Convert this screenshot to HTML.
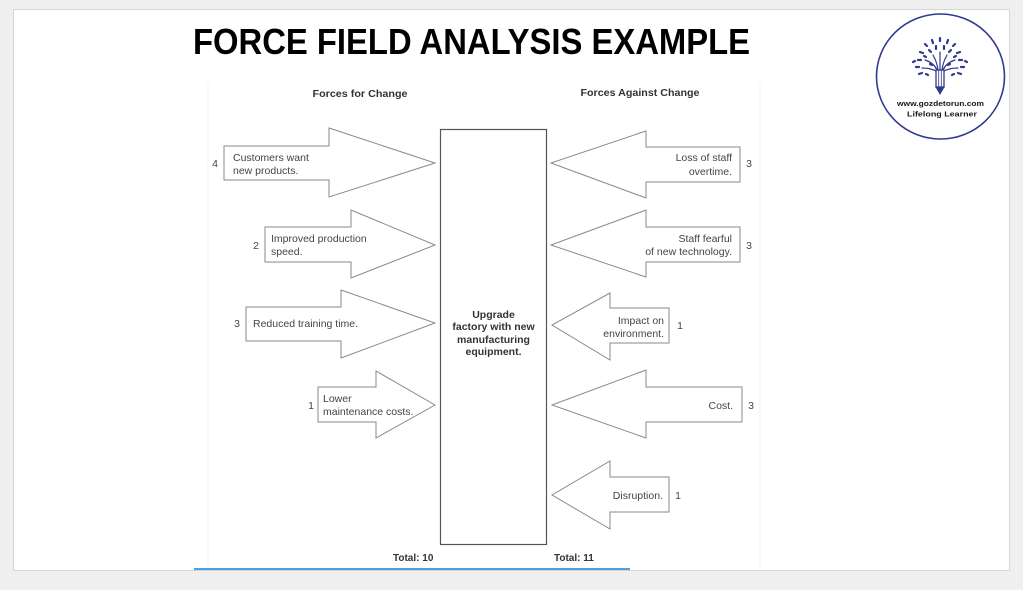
<!DOCTYPE html>
<html>
<head>
<meta charset="utf-8">
<style>
  html,body{margin:0;padding:0;background:#efefef;}
  body{width:1023px;height:590px;overflow:hidden;}
  svg{display:block;}
  .t{font-family:"Liberation Sans",Arial,sans-serif;fill:#444;font-size:10.5px;}
  .b{font-family:"Liberation Sans",Arial,sans-serif;font-weight:bold;fill:#333;}
  .ar{fill:#fff;stroke:#8a8a8a;stroke-width:1;}
</style>
</head>
<body>
<svg width="1023" height="590" viewBox="0 0 1023 590" xmlns="http://www.w3.org/2000/svg">
  <!-- page background and slide -->
  <rect x="0" y="0" width="1023" height="590" fill="#efefef"/>
  <rect x="13.5" y="9.5" width="996" height="561" fill="#ffffff" stroke="#d6d6d6" stroke-width="1"/>
  <!-- inner image faint bounds -->
  <line x1="208" y1="82" x2="208" y2="568" stroke="#f2f2f2" stroke-width="1"/>
  <line x1="760" y1="82" x2="760" y2="568" stroke="#f2f2f2" stroke-width="1"/>

  <!-- title -->
  <text x="193" y="54" textLength="557" lengthAdjust="spacingAndGlyphs" font-family="'Liberation Sans',Arial,sans-serif" font-weight="bold" font-size="36" fill="#000">FORCE FIELD ANALYSIS EXAMPLE</text>

  <!-- headers -->
  <text class="b" x="360" y="97" font-size="10" text-anchor="middle" textLength="95" lengthAdjust="spacingAndGlyphs">Forces for Change</text>
  <text class="b" x="640" y="96" font-size="10" text-anchor="middle" textLength="119" lengthAdjust="spacingAndGlyphs">Forces Against Change</text>

  <!-- center box -->
  <rect x="440.5" y="129.5" width="106" height="415" fill="#fff" stroke="#555" stroke-width="1.2"/>
  <g class="b" font-size="10.5" text-anchor="middle">
    <text x="493.5" y="318">Upgrade</text>
    <text x="493.5" y="330">factory with new</text>
    <text x="493.5" y="343">manufacturing</text>
    <text x="493.5" y="355">equipment.</text>
  </g>

  <!-- left arrows -->
  <polygon class="ar" points="224,146 329,146 329,128 435,163 329,197 329,180 224,180"/>
  <polygon class="ar" points="265,227 351,227 351,210 435,245 351,278 351,262 265,262"/>
  <polygon class="ar" points="246,307 341,307 341,290 435,323 341,358 341,341 246,341"/>
  <polygon class="ar" points="318,387 376,387 376,371 435,405 376,438 376,422 318,422"/>

  <g class="t">
    <text x="215" y="167" text-anchor="middle">4</text>
    <text x="233" y="161">Customers want</text>
    <text x="233" y="174">new products.</text>

    <text x="256" y="249" text-anchor="middle">2</text>
    <text x="271" y="242">Improved production</text>
    <text x="271" y="255">speed.</text>

    <text x="237" y="327" text-anchor="middle">3</text>
    <text x="253" y="327">Reduced training time.</text>

    <text x="311" y="409" text-anchor="middle">1</text>
    <text x="323" y="402">Lower</text>
    <text x="323" y="415">maintenance costs.</text>
  </g>

  <!-- right arrows -->
  <polygon class="ar" points="740,147 646,147 646,131 551,163 646,198 646,182 740,182"/>
  <polygon class="ar" points="740,227 646,227 646,210 551,245 646,277 646,262 740,262"/>
  <polygon class="ar" points="669,308 610,308 610,293 552,325 610,360 610,343 669,343"/>
  <polygon class="ar" points="742,387 646,387 646,370 552,405 646,438 646,422 742,422"/>
  <polygon class="ar" points="669,477 610,477 610,461 552,495 610,529 610,512 669,512"/>

  <g class="t">
    <text x="732" y="161" text-anchor="end">Loss of staff</text>
    <text x="732" y="175" text-anchor="end">overtime.</text>
    <text x="749" y="167" text-anchor="middle">3</text>

    <text x="732" y="242" text-anchor="end">Staff fearful</text>
    <text x="732" y="255" text-anchor="end">of new technology.</text>
    <text x="749" y="249" text-anchor="middle">3</text>

    <text x="664" y="324" text-anchor="end">Impact on</text>
    <text x="664" y="337" text-anchor="end">environment.</text>
    <text x="680" y="329" text-anchor="middle">1</text>

    <text x="733" y="409" text-anchor="end">Cost.</text>
    <text x="751" y="409" text-anchor="middle">3</text>

    <text x="663" y="499" text-anchor="end">Disruption.</text>
    <text x="678" y="499" text-anchor="middle">1</text>
  </g>

  <!-- totals -->
  <text class="b" x="393" y="561" font-size="10">Total: 10</text>
  <text class="b" x="554" y="561" font-size="10">Total: 11</text>

  <!-- blue progress line -->
  <line x1="194" y1="569" x2="630" y2="569" stroke="#4e9fe0" stroke-width="2"/>

  <!-- logo -->
  <ellipse cx="940.5" cy="76.5" rx="64" ry="62.5" fill="#fff" stroke="#2f3a8f" stroke-width="1.6"/>
  <g stroke="#2f3a8f" fill="none" stroke-linecap="round">
    <!-- pencil -->
    <rect x="936" y="70" width="8" height="17" fill="#fff" stroke-width="1.3"/>
    <line x1="938.7" y1="70" x2="938.7" y2="87" stroke-width="0.8"/>
    <line x1="941.3" y1="70" x2="941.3" y2="87" stroke-width="0.8"/>
    <polygon points="936,87 944,87 940,94" fill="#2f3a8f" stroke-width="1"/>
    <!-- branches -->
    <path d="M937,70 Q934,63 925,60" stroke-width="1.2"/>
    <path d="M938,70 Q937,62 933,55" stroke-width="1.2"/>
    <path d="M940,70 L940,52" stroke-width="1.2"/>
    <path d="M942,70 Q943,62 947,55" stroke-width="1.2"/>
    <path d="M943,70 Q946,63 955,60" stroke-width="1.2"/>
    <path d="M936,71 Q930,68 922,68" stroke-width="1.2"/>
    <path d="M944,71 Q950,68 958,68" stroke-width="1.2"/>
    <!-- leaves / dots -->
    <g stroke-width="2.2">
      <line x1="940" y1="38" x2="940" y2="41"/>
      <line x1="932" y1="40" x2="933" y2="43"/>
      <line x1="948" y1="40" x2="947" y2="43"/>
      <line x1="925" y1="44" x2="927" y2="46"/>
      <line x1="955" y1="44" x2="953" y2="46"/>
      <line x1="936" y1="46" x2="936" y2="49"/>
      <line x1="944" y1="46" x2="944" y2="49"/>
      <line x1="929" y1="50" x2="931" y2="52"/>
      <line x1="951" y1="50" x2="949" y2="52"/>
      <line x1="920" y1="52" x2="923" y2="53"/>
      <line x1="960" y1="52" x2="957" y2="53"/>
      <line x1="918" y1="60" x2="921" y2="60"/>
      <line x1="962" y1="60" x2="959" y2="60"/>
      <line x1="924" y1="56" x2="926" y2="57"/>
      <line x1="956" y1="56" x2="954" y2="57"/>
      <line x1="916" y1="67" x2="919" y2="67"/>
      <line x1="964" y1="67" x2="961" y2="67"/>
      <line x1="919" y1="74" x2="922" y2="73"/>
      <line x1="961" y1="74" x2="958" y2="73"/>
      <line x1="926" y1="74" x2="928" y2="75"/>
      <line x1="954" y1="74" x2="952" y2="75"/>
      <line x1="930" y1="64" x2="932" y2="65"/>
      <line x1="950" y1="64" x2="948" y2="65"/>
      <line x1="915" y1="61" x2="913" y2="62"/>
      <line x1="965" y1="61" x2="967" y2="62"/>
    </g>
  </g>
  <text x="940.5" y="106" text-anchor="middle" font-family="'Liberation Sans',Arial,sans-serif" font-weight="bold" font-size="7.5" fill="#1a1a1a" textLength="87" lengthAdjust="spacingAndGlyphs">www.gozdetorun.com</text>
  <text x="942" y="116.5" text-anchor="middle" font-family="'Liberation Sans',Arial,sans-serif" font-weight="bold" font-size="7.5" fill="#1a1a1a" textLength="70" lengthAdjust="spacingAndGlyphs">Lifelong Learner</text>
</svg>
</body>
</html>
